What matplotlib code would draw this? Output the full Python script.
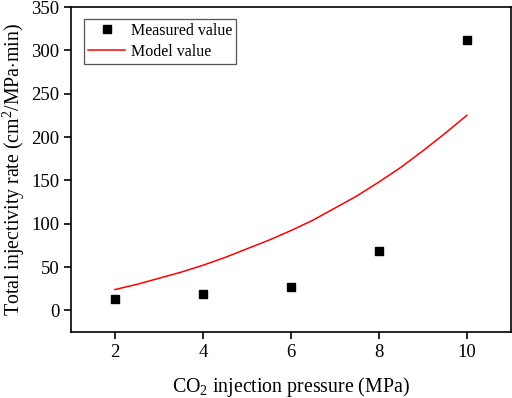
import numpy as np
import matplotlib
matplotlib.use("Agg")
import matplotlib.pyplot as plt

plt.rcParams["font.family"] = ["Liberation Serif", "DejaVu Serif"]
plt.rcParams["mathtext.fontset"] = "custom"
plt.rcParams["mathtext.rm"] = "Liberation Serif"
plt.rcParams["mathtext.it"] = "Liberation Serif:italic"
plt.rcParams["mathtext.bf"] = "Liberation Serif:bold"

# measured points
pressure = [2, 4, 6, 8, 10]
measured = [13.5, 18.5, 27, 69, 312]

# model curve
model_x = [2, 2.5, 3, 3.5, 4, 4.5, 5, 5.5, 6, 6.5, 7, 7.5, 8, 8.5, 9, 9.5, 10]
model_y = [24, 30, 37, 44, 52, 61, 71, 81, 92, 104, 118, 132, 148, 165, 184, 204, 225]

fig = plt.figure(figsize=(5.12, 3.98), dpi=100)
ax = fig.add_axes([0.1387, 0.1658, 0.859, 0.8166])

ax.plot(pressure, measured, "s", color="black", ms=5.2, label="Measured value")
ax.plot(model_x, model_y, "-", color="red", lw=1.1, label="Model value")

ax.set_xlim(1, 11)
ax.set_ylim(-25, 350)
ax.set_xticks([2, 4, 6, 8, 10])
ax.set_yticks(np.arange(0, 351, 50))
ax.tick_params(direction="out", length=5, width=1.2, labelsize=13.5, top=False, right=False)
for s in ax.spines.values():
    s.set_linewidth(1.2)

ax.set_xlabel("CO$_2$ injection pressure (MPa)", fontsize=14.3, labelpad=10)
ax.set_ylabel("Total injectivity rate (cm$^2$/MPa$\\cdot$min)", fontsize=14.3, labelpad=3)

leg = ax.legend(loc="upper left", bbox_to_anchor=(0.03, 0.963), borderaxespad=0,
                fontsize=11.5, fancybox=False, edgecolor="#555555", framealpha=1,
                handlelength=2.3, handletextpad=0.35, borderpad=0.25, labelspacing=0.3)
leg.get_frame().set_linewidth(0.9)

fig.savefig("out.png", dpi=100)
